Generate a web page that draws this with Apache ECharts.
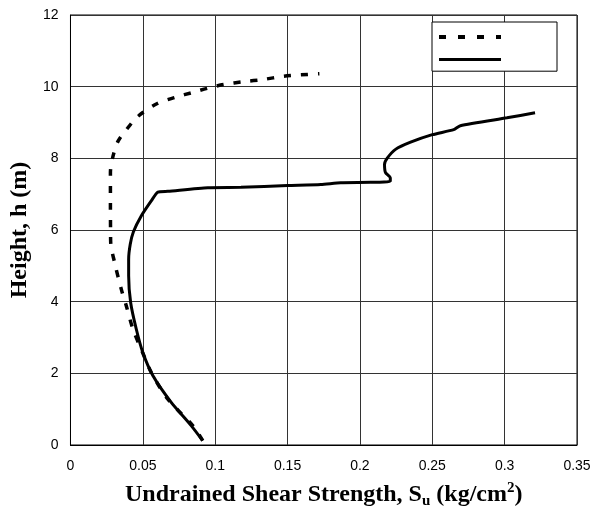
<!DOCTYPE html>
<html>
<head>
<meta charset="utf-8">
<script src="https://cdn.jsdelivr.net/npm/echarts@6/dist/echarts.min.js"></script>
<style>
  html, body { margin: 0; padding: 0; background: #fff; }
  #chart { width: 596px; height: 514px; }
</style>
</head>
<body>
<div id="chart"></div>
<script>
// dashed profile (Su in kg/cm2, height in m)
const dashedSu = [0.0914, 0.0845, 0.0673, 0.0558, 0.0489, 0.0432, 0.0386, 0.0351, 0.0305, 0.0278, 0.0277, 0.0276, 0.0276,
  0.0294, 0.0329, 0.0386, 0.0466, 0.060, 0.073, 0.0845, 0.096, 0.106, 0.120, 0.133, 0.147, 0.159, 0.172]
const dashedH = [0.12, 0.54, 1.28, 2.03, 2.67, 3.23, 3.88, 4.35, 5.09, 5.65, 5.93, 6.76, 7.60,
  8.06, 8.48, 8.80, 9.17, 9.53, 9.71, 9.84, 9.97, 10.06, 10.14, 10.20, 10.29, 10.33, 10.36]

// solid profile
const solidSu = [0.0914, 0.0834, 0.0696, 0.057, 0.050, 0.0455, 0.0416, 0.0402, 0.0402, 0.0413, 0.0435, 0.0489, 0.0558,
  0.0604, 0.0673, 0.0949, 0.1178, 0.150, 0.173, 0.1867, 0.2074, 0.221, 0.221, 0.2177, 0.217, 0.219, 0.2246,
  0.235, 0.250, 0.2648, 0.2694, 0.3016, 0.321]
const solidH = [0.12, 0.54, 1.19, 1.93, 2.58, 3.23, 3.97, 4.72, 5.18, 5.60, 5.95, 6.39, 6.81,
  7.06, 7.08, 7.18, 7.19, 7.24, 7.27, 7.32, 7.33, 7.36, 7.46, 7.60, 7.83, 8.01, 8.25,
  8.45, 8.66, 8.80, 8.91, 9.13, 9.27]

const pairs = (xs, ys) => xs.map((x, i) => [x, ys[i]])

const titleFont = { fontWeight: 'bold', fontFamily: 'Liberation Serif', color: '#000' }

const chart = echarts.init(document.getElementById('chart'))
chart.setOption({
  animation: false,
  grid: {
    left: 69, right: 19, top: 15, bottom: 68,
    show: true, borderColor: '#000', borderWidth: 1
  },
  legend: {
    left: 432, top: 22,
    orient: 'vertical',
    itemWidth: 62, itemHeight: 14, itemGap: 10,
    padding: [8, 54, 6, 5],
    backgroundColor: '#fff',
    borderColor: '#000', borderWidth: 1,
    borderRadius: 0,
    itemStyle: { opacity: 0 },
    formatter: () => '',
    textStyle: { fontSize: 10 },
    data: [
      { name: 'dashed', lineStyle: { width: 4, type: [7, 12] } },
      { name: 'solid', lineStyle: { width: 3 } }
    ]
  },
  xAxis: {
    type: 'value',
    min: 0, max: 0.35, interval: 0.05,
    axisLine: { show: true, lineStyle: { color: '#000' } },
    axisTick: { show: false },
    splitLine: { show: true, lineStyle: { color: '#333', width: 1 } },
    axisLabel: { color: '#000', fontSize: 14, fontFamily: 'Liberation Sans', margin: 14 },
    name: '{t|Undrained Shear Strength, S}{sub|u}{t| (kg/cm}{sup|2}{t|)}',
    nameLocation: 'middle',
    nameGap: 36,
    nameTextStyle: {
      rich: {
        t: Object.assign({ fontSize: 24, lineHeight: 28 }, titleFont),
        sub: Object.assign({ fontSize: 15, lineHeight: 15, verticalAlign: 'bottom' }, titleFont),
        sup: Object.assign({ fontSize: 15, lineHeight: 15, verticalAlign: 'top' }, titleFont)
      }
    }
  },
  yAxis: {
    type: 'value',
    min: 0, max: 12, interval: 2,
    axisLine: { show: true, lineStyle: { color: '#000' } },
    axisTick: { show: false },
    splitLine: { show: true, lineStyle: { color: '#333', width: 1 } },
    axisLabel: { color: '#000', fontSize: 14, fontFamily: 'Liberation Sans', margin: 12 },
    name: 'Height, h (m)',
    nameLocation: 'middle',
    nameGap: 33,
    nameTextStyle: Object.assign({ fontSize: 24 }, titleFont)
  },
  series: [
    {
      name: 'dashed',
      type: 'line',
      data: pairs(dashedSu, dashedH),
      symbol: 'none',
      smooth: 0.3,
      color: '#000',
      lineStyle: { color: '#000', width: 3.5, type: [7, 10] }
    },
    {
      name: 'solid',
      type: 'line',
      data: pairs(solidSu, solidH),
      symbol: 'none',
      smooth: 0.2,
      color: '#000',
      lineStyle: { color: '#000', width: 3 }
    }
  ]
})
</script>
</body>
</html>
